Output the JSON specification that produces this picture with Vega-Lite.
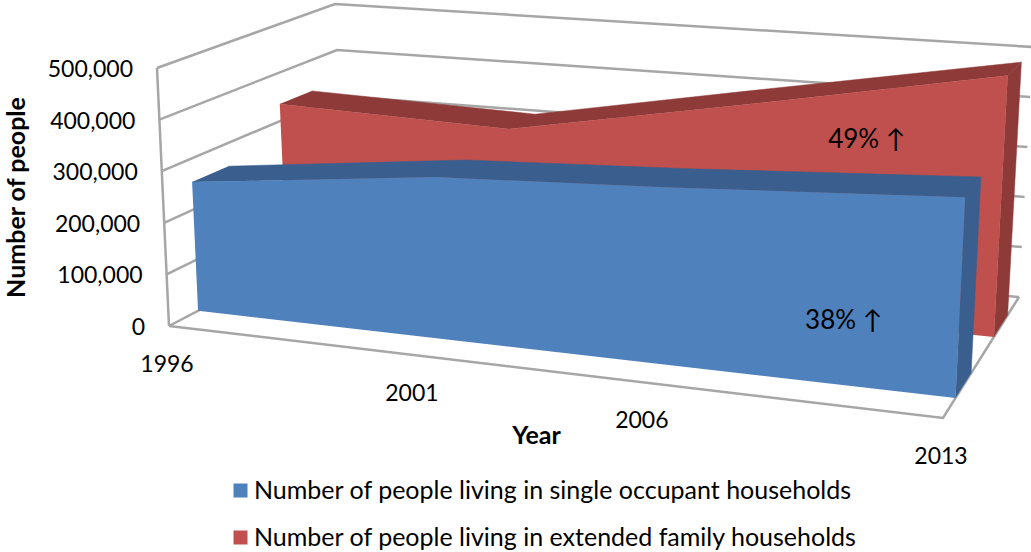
{
"$schema":"https://vega.github.io/schema/vega-lite/v6.json",
"width":1031,"height":552,"padding":0,"autosize":{"type":"none"},
"background":"white",
"config":{"view":{"stroke":null},"font":"Lato"},
"data":{"values":[
{"kind":"grid","id":"w0","i":1,"year":1996,"people":0,"plane":"wallFront"},
{"kind":"grid","id":"w0","i":2,"year":1996,"people":0,"plane":"wallBack"},
{"kind":"grid","id":"w0","i":3,"year":2013,"people":0,"plane":"wallBack"},
{"kind":"grid","id":"w1","i":1,"year":1996,"people":100000,"plane":"wallFront"},
{"kind":"grid","id":"w1","i":2,"year":1996,"people":100000,"plane":"wallBack"},
{"kind":"grid","id":"w1","i":3,"year":2013,"people":100000,"plane":"wallBack"},
{"kind":"grid","id":"w2","i":1,"year":1996,"people":200000,"plane":"wallFront"},
{"kind":"grid","id":"w2","i":2,"year":1996,"people":200000,"plane":"wallBack"},
{"kind":"grid","id":"w2","i":3,"year":2013,"people":200000,"plane":"wallBack"},
{"kind":"grid","id":"w3","i":1,"year":1996,"people":300000,"plane":"wallFront"},
{"kind":"grid","id":"w3","i":2,"year":1996,"people":300000,"plane":"wallBack"},
{"kind":"grid","id":"w3","i":3,"year":2013,"people":300000,"plane":"wallBack"},
{"kind":"grid","id":"w4","i":1,"year":1996,"people":400000,"plane":"wallFront"},
{"kind":"grid","id":"w4","i":2,"year":1996,"people":400000,"plane":"wallBack"},
{"kind":"grid","id":"w4","i":3,"year":2013,"people":400000,"plane":"wallBack"},
{"kind":"grid","id":"w5","i":1,"year":1996,"people":500000,"plane":"wallFront"},
{"kind":"grid","id":"w5","i":2,"year":1996,"people":500000,"plane":"wallBack"},
{"kind":"grid","id":"w5","i":3,"year":2013,"people":500000,"plane":"wallBack"},
{"kind":"grid","id":"floor","i":1,"year":1996,"people":0,"plane":"wallFront"},
{"kind":"grid","id":"floor","i":2,"year":2013,"people":0,"plane":"wallFront"},
{"kind":"grid","id":"floor","i":3,"year":2013,"people":0,"plane":"wallBack"},
{"kind":"grid","id":"edge","i":1,"year":1996,"people":0,"plane":"wallFront"},
{"kind":"grid","id":"edge","i":2,"year":1996,"people":500000,"plane":"wallFront"},

{"kind":"redShade","id":"top","i":1,"year":1996,"people":335000,"plane":"redFront"},
{"kind":"redShade","id":"top","i":2,"year":2001,"people":322000,"plane":"redFront"},
{"kind":"redShade","id":"top","i":3,"year":2006,"people":401000,"plane":"redFront"},
{"kind":"redShade","id":"top","i":4,"year":2013,"people":503000,"plane":"redFront"},
{"kind":"redShade","id":"top","i":5,"year":2013,"people":497000,"plane":"redBack"},
{"kind":"redShade","id":"top","i":6,"year":2006,"people":401000,"plane":"redBack"},
{"kind":"redShade","id":"top","i":7,"year":2001,"people":322000,"plane":"redBack"},
{"kind":"redShade","id":"top","i":8,"year":1996,"people":335000,"plane":"redBack"},
{"kind":"redShade","id":"side","i":1,"year":2013,"people":0,"plane":"redFront"},
{"kind":"redShade","id":"side","i":2,"year":2013,"people":503000,"plane":"redFront"},
{"kind":"redShade","id":"side","i":3,"year":2013,"people":497000,"plane":"redBack"},
{"kind":"redShade","id":"side","i":4,"year":2013,"people":0,"plane":"redBack"},

{"kind":"redFace","series":"Number of people living in extended family households","id":"front","i":1,"year":1996,"people":0,"plane":"redFront"},
{"kind":"redFace","series":"Number of people living in extended family households","id":"front","i":2,"year":2013,"people":0,"plane":"redFront"},
{"kind":"redFace","series":"Number of people living in extended family households","id":"front","i":3,"year":2013,"people":503000,"plane":"redFront"},
{"kind":"redFace","series":"Number of people living in extended family households","id":"front","i":4,"year":2006,"people":401000,"plane":"redFront"},
{"kind":"redFace","series":"Number of people living in extended family households","id":"front","i":5,"year":2001,"people":322000,"plane":"redFront"},
{"kind":"redFace","series":"Number of people living in extended family households","id":"front","i":6,"year":1996,"people":335000,"plane":"redFront"},

{"kind":"blueShade","id":"top","i":1,"year":1996,"people":254000,"plane":"blueFront"},
{"kind":"blueShade","id":"top","i":2,"year":2001,"people":310000,"plane":"blueFront"},
{"kind":"blueShade","id":"top","i":3,"year":2006,"people":332000,"plane":"blueFront"},
{"kind":"blueShade","id":"top","i":4,"year":2013,"people":365000,"plane":"blueFront"},
{"kind":"blueShade","id":"top","i":5,"year":2013,"people":365000,"plane":"blueBack"},
{"kind":"blueShade","id":"top","i":6,"year":2006,"people":332000,"plane":"blueBack"},
{"kind":"blueShade","id":"top","i":7,"year":2001,"people":310000,"plane":"blueBack"},
{"kind":"blueShade","id":"top","i":8,"year":1996,"people":254000,"plane":"blueBack"},
{"kind":"blueShade","id":"side","i":1,"year":2013,"people":0,"plane":"blueFront"},
{"kind":"blueShade","id":"side","i":2,"year":2013,"people":365000,"plane":"blueFront"},
{"kind":"blueShade","id":"side","i":3,"year":2013,"people":365000,"plane":"blueBack"},
{"kind":"blueShade","id":"side","i":4,"year":2013,"people":0,"plane":"blueBack"},

{"kind":"blueFace","series":"Number of people living in single occupant households","id":"front","i":1,"year":1996,"people":0,"plane":"blueFront"},
{"kind":"blueFace","series":"Number of people living in single occupant households","id":"front","i":2,"year":2013,"people":0,"plane":"blueFront"},
{"kind":"blueFace","series":"Number of people living in single occupant households","id":"front","i":3,"year":2013,"people":365000,"plane":"blueFront"},
{"kind":"blueFace","series":"Number of people living in single occupant households","id":"front","i":4,"year":2006,"people":332000,"plane":"blueFront"},
{"kind":"blueFace","series":"Number of people living in single occupant households","id":"front","i":5,"year":2001,"people":310000,"plane":"blueFront"},
{"kind":"blueFace","series":"Number of people living in single occupant households","id":"front","i":6,"year":1996,"people":254000,"plane":"blueFront"},

{"kind":"tickY","label":"0","year":1996,"people":0,"plane":"wallFront"},
{"kind":"tickY","label":"100,000","year":1996,"people":100000,"plane":"wallFront"},
{"kind":"tickY","label":"200,000","year":1996,"people":200000,"plane":"wallFront"},
{"kind":"tickY","label":"300,000","year":1996,"people":300000,"plane":"wallFront"},
{"kind":"tickY","label":"400,000","year":1996,"people":400000,"plane":"wallFront"},
{"kind":"tickY","label":"500,000","year":1996,"people":500000,"plane":"wallFront"},
{"kind":"tickX","label":"1996","year":1996,"people":0,"plane":"wallFront"},
{"kind":"tickX","label":"2001","year":2001,"people":0,"plane":"wallFront"},
{"kind":"tickX","label":"2006","year":2006,"people":0,"plane":"wallFront"},
{"kind":"tickX","label":"2013","year":2013,"people":0,"plane":"wallFront"},
{"kind":"note","label":"49% ↑","year":2009.5,"people":361000,"plane":"redFront"},
{"kind":"note","label":"38% ↑","year":2010.2,"people":121000,"plane":"blueFront"}
]},
"transform":[
{"calculate":"{'wallFront':0,'blueFront':0.165,'blueBack':0.37,'redFront':0.67,'redBack':0.85,'wallBack':1}[datum.plane]","as":"v"},
{"calculate":"(datum.year-1996)/17","as":"u0"},
{"calculate":"datum.u0/(datum.u0+0.9*(1-datum.u0))","as":"u"},
{"calculate":"datum.people/500000","as":"w"},
{"calculate":"(1-datum.w)*((1-datum.u)*((1-datum.v)*169+datum.v*345)+datum.u*((1-datum.v)*943+datum.v*1019))+datum.w*((1-datum.u)*((1-datum.v)*157+datum.v*335)+datum.u*((1-datum.v)*956+datum.v*1033))","as":"px"},
{"calculate":"(1-datum.w)*((1-datum.u)*((1-datum.v)*326+datum.v*234)+datum.u*((1-datum.v)*418+datum.v*297))+datum.w*((1-datum.u)*((1-datum.v)*68+datum.v*4)+datum.u*((1-datum.v)*138+datum.v*47))","as":"py"}
],
"encoding":{
"x":{"field":"px","type":"quantitative","scale":{"domain":[0,1031]},"axis":{"title":"Year","labels":false,"ticks":false,"domain":false,"grid":false,"titleFont":"Lato","titleFontSize":25,"titleFontWeight":"bold","titleColor":"#000","titleX":536,"titleY":-117,"titleAlign":"center","titleBaseline":"middle"}},
"y":{"field":"py","type":"quantitative","scale":{"domain":[552,0]},"axis":{"title":"Number of people","labels":false,"ticks":false,"domain":false,"grid":false,"titleFont":"Lato","titleFontSize":25,"titleFontWeight":"bold","titleColor":"#000","titleX":16,"titleY":197,"titleAngle":-90,"titleAlign":"center","titleBaseline":"middle"}},
"order":{"field":"i","type":"quantitative"}
},
"layer":[
{"transform":[{"filter":"datum.kind=='grid'"}],"mark":{"type":"line","stroke":"#a6a6a6","strokeWidth":2.5,"strokeJoin":"miter"},"encoding":{"detail":{"field":"id"}}},
{"transform":[{"filter":"datum.kind=='redShade'"}],"mark":{"type":"line","fill":"#8e3a38","stroke":"#8e3a38","strokeWidth":0.5},"encoding":{"detail":{"field":"id"}}},
{"transform":[{"filter":"datum.kind=='redFace'"}],"mark":{"type":"line","filled":true},"encoding":{"detail":{"field":"id"},"color":{"field":"series","type":"nominal","scale":{"domain":["Number of people living in single occupant households","Number of people living in extended family households"],"range":["#4f81bd","#c0504d"]},"legend":{"title":null,"orient":"none","legendX":228,"legendY":478,"padding":0,"direction":"vertical","symbolType":"square","symbolSize":196,"symbolStrokeWidth":0,"labelFont":"Lato","labelFontSize":25,"labelColor":"#000","labelLimit":800,"rowPadding":21,"labelOffset":1}}}},
{"transform":[{"filter":"datum.kind=='blueShade'"}],"mark":{"type":"line","fill":"#3a5f8e","stroke":"#3a5f8e","strokeWidth":0.5},"encoding":{"detail":{"field":"id"}}},
{"transform":[{"filter":"datum.kind=='blueFace'"}],"mark":{"type":"line","filled":true},"encoding":{"detail":{"field":"id"},"color":{"field":"series","type":"nominal"}}},
{"transform":[{"filter":"datum.kind=='tickY'"}],"mark":{"type":"text","align":"right","baseline":"middle","dx":-24,"dy":2,"fontSize":23,"font":"Lato","color":"#000"},"encoding":{"text":{"field":"label"}}},
{"transform":[{"filter":"datum.kind=='tickX'"}],"mark":{"type":"text","align":"center","baseline":"middle","dx":-2,"dy":39,"fontSize":23,"font":"Lato","color":"#000"},"encoding":{"text":{"field":"label"}}},
{"transform":[{"filter":"datum.kind=='note'"}],"mark":{"type":"text","align":"center","baseline":"middle","dy":2,"fontSize":26,"font":"Lato","color":"#000"},"encoding":{"text":{"field":"label"}}}
]
}
